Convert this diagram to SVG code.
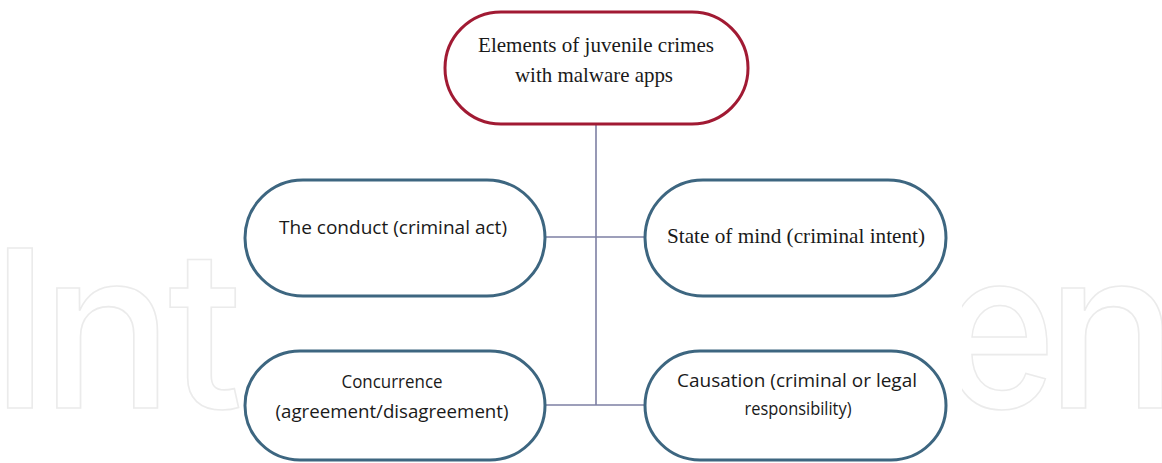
<svg xmlns="http://www.w3.org/2000/svg" width="1162" height="463" viewBox="0 0 1162 463">
  <style>
    .wm { font-family: Inter, "Liberation Sans", sans-serif; font-size: 220px; font-weight: 500; fill: none; stroke: #ebebeb; stroke-width: 1.6; }
    .node { fill: #ffffff; stroke: #3d6680; stroke-width: 3; }
    .root { fill: #ffffff; stroke: #a11a33; stroke-width: 3; }
    .serif { font-family: "Liberation Serif", "Times New Roman", serif; font-size: 21px; fill: #1a1a1a; text-anchor: middle; }
    .sans { font-family: "Open Sans", "Liberation Sans", sans-serif; font-size: 18px; fill: #1a1a1a; text-anchor: middle; }
    .link { stroke: #7d7fa3; stroke-width: 1.6; fill: none; }
  </style>

  <rect width="1162" height="463" fill="#ffffff"/>

  <!-- faint outlined wordmark in the background, left and right fragments -->
  <text class="wm" x="-10 41 168" y="408">Int</text>
  <text class="wm" transform="translate(963 408) scale(0.88 1)" x="-24" y="0">e</text>
  <text class="wm" x="1046" y="408">n</text>
  <rect x="241" y="0" width="721" height="463" fill="#ffffff"/>

  <!-- connectors -->
  <g id="connectors">
    <line class="link" x1="596" y1="124" x2="596" y2="405"/>
    <line class="link" x1="546" y1="237" x2="645" y2="237"/>
    <line class="link" x1="546" y1="405" x2="645" y2="405"/>
  </g>

  <g id="root">
    <rect class="root" x="445" y="12" width="303" height="112" rx="56" ry="56"/>
    <text class="serif" x="596" y="52" textLength="236" lengthAdjust="spacingAndGlyphs">Elements of juvenile crimes</text>
    <text class="serif" x="594" y="82" textLength="158" lengthAdjust="spacingAndGlyphs">with malware apps</text>
  </g>

  <g id="conduct">
    <rect class="node" x="245" y="180" width="300" height="116" rx="58" ry="58"/>
    <text class="sans" x="393" y="234" textLength="228" lengthAdjust="spacingAndGlyphs">The conduct (criminal act)</text>
  </g>

  <g id="state-of-mind">
    <rect class="node" x="645" y="180" width="301" height="116" rx="58" ry="58"/>
    <text class="serif" x="796" y="243" textLength="258" lengthAdjust="spacingAndGlyphs">State of mind (criminal intent)</text>
  </g>

  <g id="concurrence">
    <rect class="node" x="245" y="351" width="300" height="109" rx="55" ry="55"/>
    <text class="sans" x="392" y="388" textLength="101" lengthAdjust="spacingAndGlyphs">Concurrence</text>
    <text class="sans" x="392" y="418" textLength="233" lengthAdjust="spacingAndGlyphs">(agreement/disagreement)</text>
  </g>

  <g id="causation">
    <rect class="node" x="645" y="351" width="301" height="109" rx="55" ry="55"/>
    <text class="sans" x="797" y="387" textLength="240" lengthAdjust="spacingAndGlyphs">Causation (criminal or legal</text>
    <text class="sans" x="798" y="415" textLength="107" lengthAdjust="spacingAndGlyphs">responsibility)</text>
  </g>
</svg>
